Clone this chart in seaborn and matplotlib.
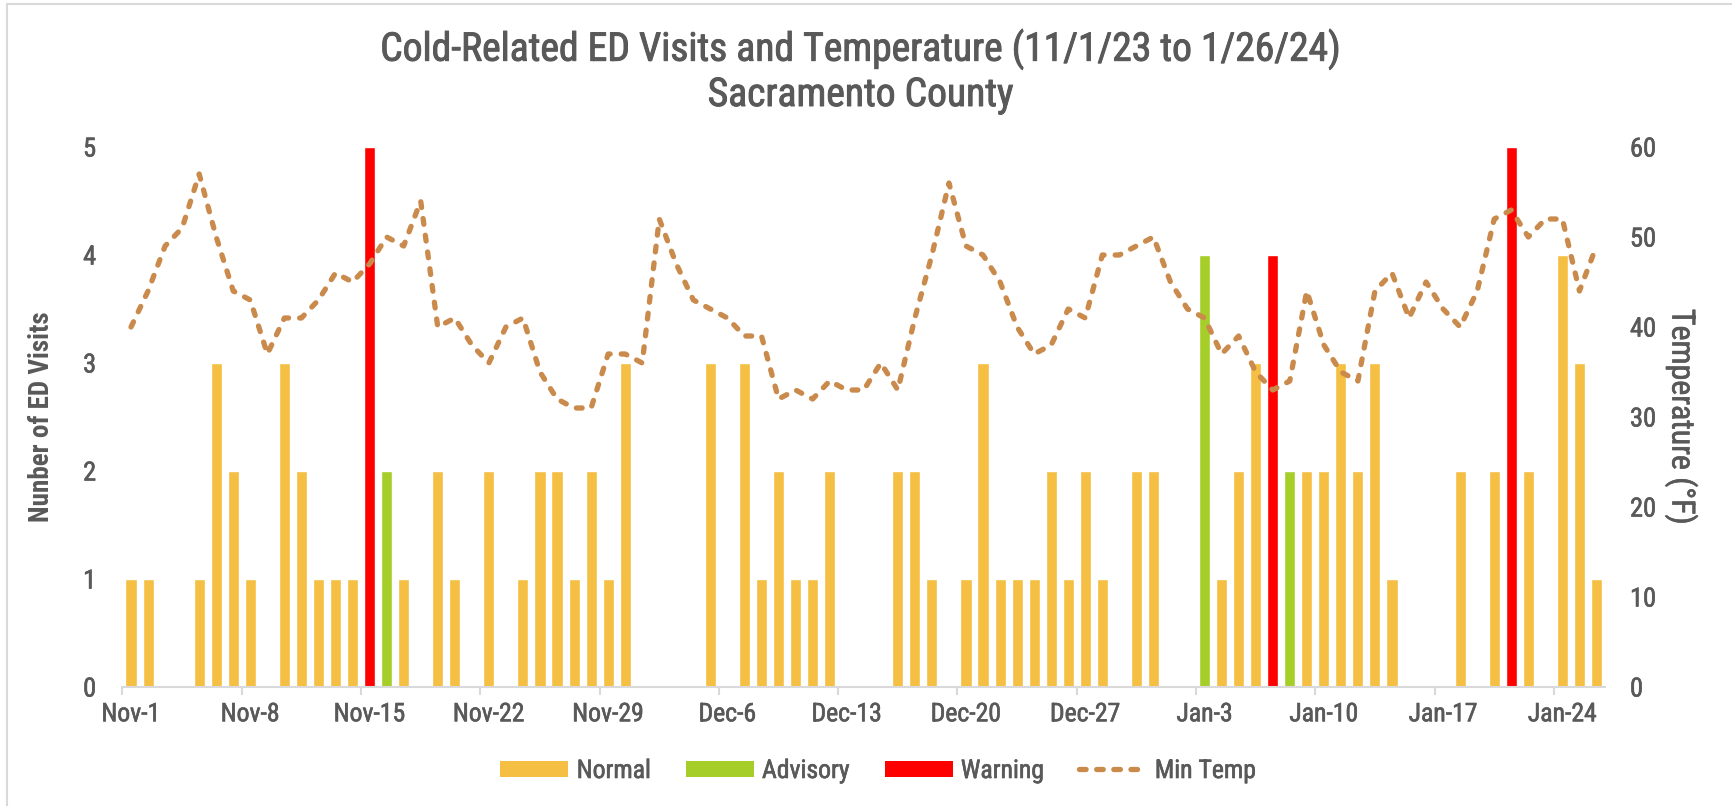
import numpy as np
import pandas as pd
import matplotlib
matplotlib.use("Agg")
import matplotlib.pyplot as plt
import matplotlib.patheffects as pe
import seaborn as sns
from matplotlib.patches import Patch, Rectangle
from matplotlib.lines import Line2D
from matplotlib import font_manager as fm

# ---------------- data ----------------
start_date = "2023-11-01"
end_date = "2024-01-26"

ed_visits = [
    # Nov 1 - Nov 30
    1, 1, 0, 0, 1, 3, 2, 1, 0, 3, 2, 1, 1, 1, 5, 2, 1, 0, 2, 1, 0, 2, 0, 1, 2, 2, 1, 2, 1, 3,
    # Dec 1 - Dec 31
    0, 0, 0, 0, 3, 0, 3, 1, 2, 1, 1, 2, 0, 0, 0, 2, 2, 1, 0, 1, 3, 1, 1, 1, 2, 1, 2, 1, 0, 2, 2,
    # Jan 1 - Jan 26
    0, 0, 4, 1, 2, 3, 4, 2, 2, 2, 3, 2, 3, 1, 0, 0, 0, 2, 0, 2, 5, 2, 0, 4, 3, 1,
]

warning_days = ["2023-11-15", "2024-01-07", "2024-01-21"]
advisory_days = ["2023-11-16", "2024-01-03", "2024-01-08"]

min_temp = [
    # Nov 1 - Nov 30
    40, 44, 49, 51, 57, 50, 44, 43, 37, 41, 41, 43, 46, 45, 47, 50, 49, 54, 40, 41, 38, 36, 40, 41, 35, 32, 31, 31, 37, 37,
    # Dec 1 - Dec 31
    36, 52, 47, 43, 42, 41, 39, 39, 32, 33, 32, 34, 33, 33, 36, 33, 41, 48, 56, 49, 48, 45, 40, 37, 38, 42, 41, 48, 48, 49, 50,
    # Jan 1 - Jan 26
    45, 42, 41, 37, 39, 35, 33, 34, 44, 38, 35, 34, 44, 46, 41, 45, 42, 40, 44, 52, 53, 50, 52, 52, 44, 49,
]

level_names = ["Normal", "Advisory", "Warning"]
level_colors = ["#F4BF42", "#A6CE28", "#FF0000"]
temp_label = "Min Temp"
temp_color = "#C98A4C"

left_ticks = [0, 1, 2, 3, 4, 5]
right_ticks = [0, 10, 20, 30, 40, 50, 60]

title_lines = ["Cold-Related ED Visits and Temperature (11/1/23 to 1/26/24)", "Sacramento County"]
left_label = "Nunber of ED Visits"
right_label = "Temperature (°F)"

# ---------------- build frame ----------------
dates = pd.date_range(start_date, end_date, freq="D")
levels = []
for d in dates:
    s = d.strftime("%Y-%m-%d")
    if s in warning_days:
        levels.append("Warning")
    elif s in advisory_days:
        levels.append("Advisory")
    else:
        levels.append("Normal")
df = pd.DataFrame({
    "date": dates,
    "pos": np.arange(len(dates)),
    "visits": ed_visits,
    "level": levels,
    "temp": min_temp,
})

# ---------------- fonts ----------------
avail = {f.name for f in fm.fontManager.ttflist}
def pick(*names):
    for n in names:
        if n in avail:
            return n
    return "DejaVu Sans"

cond_font = pick("Liberation Sans Narrow", "Roboto Condensed", "Roboto", "Liberation Sans")

sns.set_theme(style="white")
plt.rcParams["font.family"] = [cond_font, "DejaVu Sans"]

text_color = "#595959"
axis_color = "#D9D9D9"
thick = [pe.withStroke(linewidth=0.7, foreground=text_color)]
thin = [pe.withStroke(linewidth=0.45, foreground=text_color)]

W, H = 1732, 806
fig = plt.figure(figsize=(W / 100, H / 100), dpi=100)
ax_left, ax_right = 122.5 / W, 1605 / W
ax_bottom, ax_top = 1 - 687 / H, 1 - 147 / H
ax = fig.add_axes([ax_left, ax_bottom, ax_right - ax_left, ax_top - ax_bottom])

palette = dict(zip(level_names, level_colors))
sns.barplot(data=df, x="pos", y="visits", hue="level", hue_order=level_names,
            palette=palette, dodge=False, width=0.65, ax=ax, legend=False,
            saturation=1, native_scale=True)

ax.set_xlim(-0.5, len(dates) - 0.5)
ax.set_ylim(0, 5)
ax.set_yticks(left_ticks)
ax.set_yticklabels([str(t) for t in left_ticks])

# weekly ticks: labels centered under the day, tick marks at day boundaries
week_pos = df["pos"].values[::7]
week_labels = [d.strftime("%b-") + str(d.day) for d in dates[::7]]
ax.set_xticks(week_pos)
ax.set_xticklabels(week_labels)
ax.set_xticks(week_pos - 0.5, minor=True)
ax.tick_params(axis="x", which="major", length=0, pad=11, labelsize=18.5, labelcolor=text_color)
ax.tick_params(axis="x", which="minor", length=6, width=1.5, color=axis_color, bottom=True, direction="out")
ax.tick_params(axis="y", length=0, pad=19, labelsize=19, labelcolor=text_color)
ax.set_xlabel("")
ax.set_ylabel(left_label, fontsize=19.5, color=text_color, fontweight="bold", labelpad=20)

for side in ["top", "right", "left"]:
    ax.spines[side].set_visible(False)
ax.spines["bottom"].set_color(axis_color)
ax.spines["bottom"].set_linewidth(1.5)
ax.grid(False)

dash = (0, (1.1, 2.1))
ax2 = ax.twinx()
sns.lineplot(data=df, x="pos", y="temp", ax=ax2, color=temp_color, linewidth=3.8,
             linestyle=dash, dash_capstyle="round", legend=False)
ax2.set_ylim(0, 60)
ax2.set_yticks(right_ticks)
ax2.set_yticklabels([str(t) for t in right_ticks])
ax2.tick_params(axis="y", length=0, pad=18, labelsize=19, labelcolor=text_color)
ax2.set_ylabel(right_label, fontsize=23, color=text_color, rotation=270, labelpad=30)
ax2.set_xlabel("")
for side in ["top", "right", "left", "bottom"]:
    ax2.spines[side].set_visible(False)
ax2.grid(False)
ax.set_xlim(-0.5, len(dates) - 0.5)

for t in ax.get_xticklabels() + ax.get_yticklabels() + ax2.get_yticklabels():
    t.set_path_effects(thin)
ax2.yaxis.label.set_path_effects(thin)

# title
fig.text(0.497, 1 - 60.7 / H, title_lines[0], ha="center", va="baseline", fontsize=28.5,
         color=text_color, path_effects=thick)
fig.text(0.497, 1 - 106 / H, title_lines[1], ha="center", va="baseline", fontsize=28.5,
         color=text_color, path_effects=thick)

# legend
handles = [Patch(facecolor=c, edgecolor="none") for c in level_colors]
handles.append(Line2D([0], [0], color=temp_color, linewidth=3.8,
                      linestyle=(0, (1.25, 2.0)), dash_capstyle="round"))
labels = level_names + [temp_label]
leg = fig.legend(handles, labels, loc="center", bbox_to_anchor=(0.507, 1 - 771 / H), ncol=4,
                 frameon=False, handlelength=2.65, handleheight=0.58,
                 handletextpad=0.32, columnspacing=1.35,
                 prop={"size": 18.5})
for t in leg.get_texts():
    t.set_color(text_color)
    t.set_path_effects(thin)

# chart frame
fig.patches.append(Rectangle((7 / W, -0.05), 1.1, 1 - 4 / H + 0.05, transform=fig.transFigure,
                             fill=False, edgecolor=axis_color, linewidth=1.5))

fig.savefig("out.png", dpi=100, facecolor="white")
